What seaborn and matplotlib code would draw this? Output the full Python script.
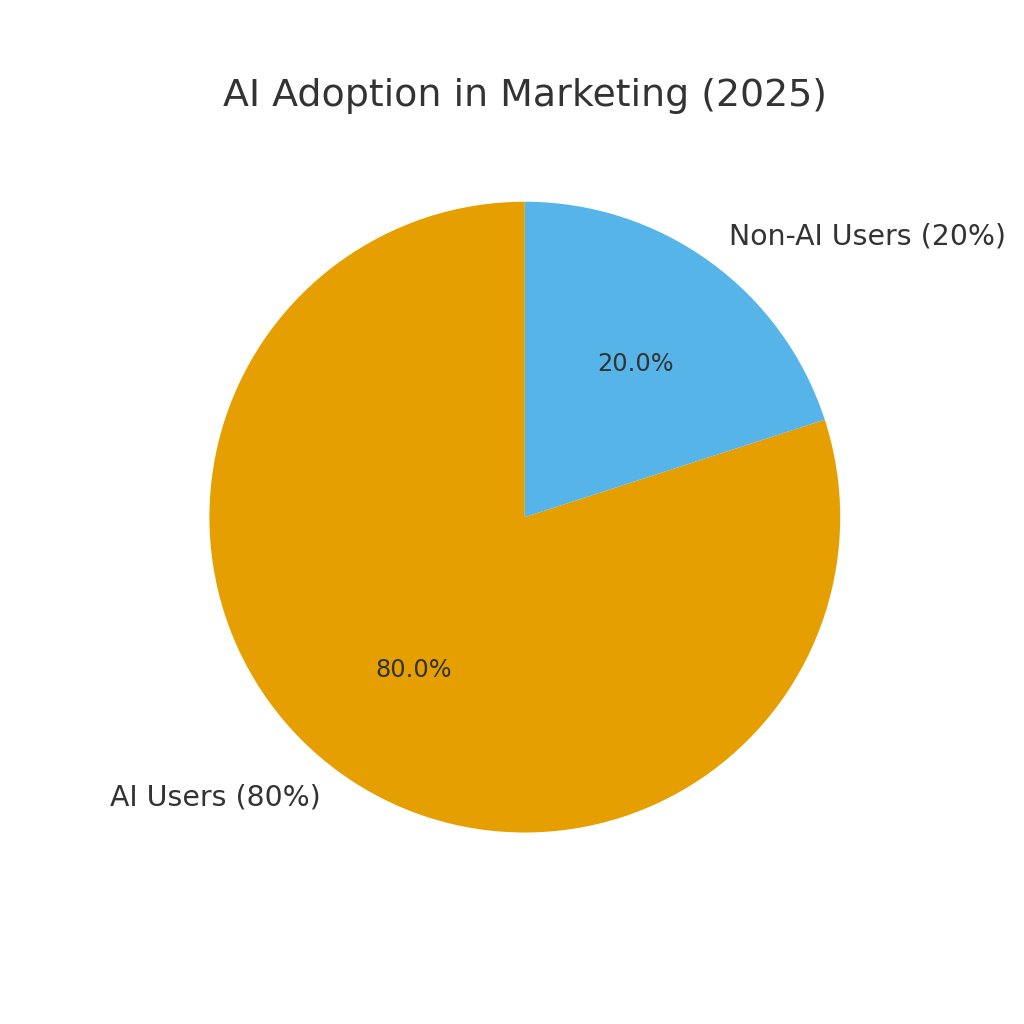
import seaborn as sns
import matplotlib.pyplot as plt

labels = ["AI Users (80%)", "Non-AI Users (20%)"]
shares = [80, 20]
colors = ["#E69F00", "#56B4E9"]

sns.set_theme(style="white")
plt.rcParams["font.family"] = ["DejaVu Sans"]
plt.rcParams["text.color"] = "#333333"

fig, ax = plt.subplots(figsize=(10.24, 10.24), dpi=100)
wedges, texts, autotexts = ax.pie(
    shares,
    labels=labels,
    colors=colors,
    autopct="%1.1f%%",
    startangle=90,
    wedgeprops={"linewidth": 0},
    textprops={"fontsize": 20.4, "color": "#333333"},
)
for t in autotexts:
    t.set_fontsize(17.3)
    t.set_color("#333333")

ax.set_title("AI Adoption in Marketing (2025)", fontsize=27.3, color="#333333", pad=12)

plt.savefig("out.png", dpi=100)
